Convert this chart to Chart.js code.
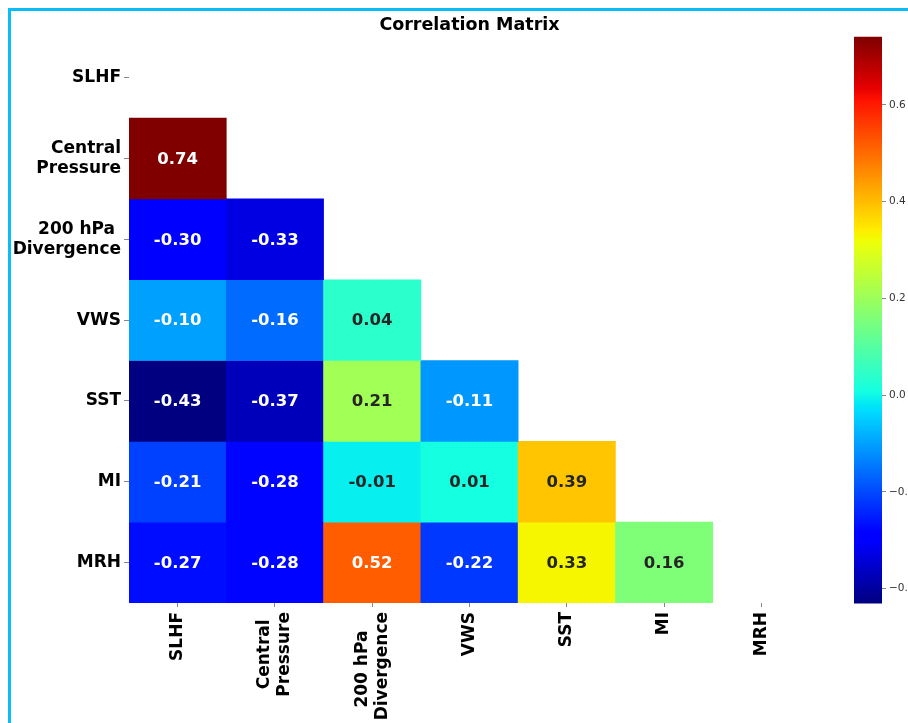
<!DOCTYPE html>
<html>
<head>
<meta charset="utf-8">
<script src="https://cdn.jsdelivr.net/npm/chart.js@4.4.1/dist/chart.umd.min.js"></script>
<style>
  html, body { margin: 0; padding: 0; background: #ffffff; }
  #wrap { width: 908px; height: 723px; position: relative; }
</style>
</head>
<body>
<div id="wrap"><canvas id="c" width="908" height="723"></canvas></div>
<script>
// ---------------- DATA ----------------
const variables = ['SLHF', 'Central Pressure', '200 hPa Divergence', 'VWS', 'SST', 'MI', 'MRH'];
const tickLabels = [['SLHF'], ['Central', 'Pressure'], ['200 hPa ', 'Divergence'], ['VWS'], ['SST'], ['MI'], ['MRH']];

// lower-triangle correlations (row variable vs. column variables before it)
const rowSLHF = [];
const rowCentralPressure = [0.74];
const rowDivergence = [-0.30, -0.33];
const rowVWS = [-0.10, -0.16, 0.04];
const rowSST = [-0.43, -0.37, 0.21, -0.11];
const rowMI = [-0.21, -0.28, -0.01, 0.01, 0.39];
const rowMRH = [-0.27, -0.28, 0.52, -0.22, 0.33, 0.16];

const colorbarTicks = [-0.4, -0.2, 0.0, 0.2, 0.4, 0.6];
const chartTitle = 'Correlation Matrix';

// ---------------- HELPERS ----------------
const rows = [rowSLHF, rowCentralPressure, rowDivergence, rowVWS, rowSST, rowMI, rowMRH];
const allVals = rows.flat();
const VMIN = Math.min(...allVals);
const VMAX = Math.max(...allVals);

function interp(pts, t) {
  for (let i = 0; i < pts.length - 1; i++) {
    const [x0, y0] = pts[i], [x1, y1] = pts[i + 1];
    if (t >= x0 && t <= x1) return y0 + (y1 - y0) * (t - x0) / (x1 - x0);
  }
  return t < pts[0][0] ? pts[0][1] : pts[pts.length - 1][1];
}
function jetRGB(t) {
  t = Math.max(0, Math.min(1, t));
  const r = interp([[0, 0], [0.35, 0], [0.66, 1], [0.89, 1], [1, 0.5]], t);
  const g = interp([[0, 0], [0.125, 0], [0.375, 1], [0.64, 1], [0.91, 0], [1, 0]], t);
  const b = interp([[0, 0.5], [0.11, 1], [0.34, 1], [0.65, 0], [1, 0]], t);
  return [r, g, b];
}
function jetColor(v) {
  const [r, g, b] = jetRGB((v - VMIN) / (VMAX - VMIN));
  return `rgb(${Math.round(r * 255)},${Math.round(g * 255)},${Math.round(b * 255)})`;
}
function textColorFor(v) {
  const lin = c => c <= 0.03928 ? c / 12.92 : Math.pow((c + 0.055) / 1.055, 2.4);
  const [r, g, b] = jetRGB((v - VMIN) / (VMAX - VMIN));
  const lum = 0.2126 * lin(r) + 0.7152 * lin(g) + 0.0722 * lin(b);
  return lum > 0.408 ? '#262626' : '#ffffff';
}

// one floating-bar dataset per row of the matrix
const datasets = rows.map((vals, r) => ({
  label: variables[r],
  data: variables.map((_, c) => c < vals.length ? [r, r + 1] : null),
  values: variables.map((_, c) => c < vals.length ? vals[c] : null),
  backgroundColor: variables.map((_, c) => c < vals.length ? jetColor(vals[c]) : 'rgba(0,0,0,0)'),
  borderWidth: 0,
  borderSkipped: false,
  barPercentage: 1.0,
  categoryPercentage: 1.0,
  grouped: false
}));

const LABEL_FONT = 'bold 17px "DejaVu Sans", sans-serif';

const framePlugin = {
  id: 'frame',
  beforeDraw(chart) {
    const ctx = chart.ctx;
    ctx.save();
    ctx.fillStyle = '#ffffff';
    ctx.fillRect(0, 0, chart.width, chart.height);
    ctx.fillStyle = '#0bbdf7';
    ctx.fillRect(8, 8, 3, chart.height - 8);
    ctx.fillRect(8, 8, chart.width - 8, 3);
    ctx.restore();
  }
};

const annotatePlugin = {
  id: 'annotate',
  afterDatasetsDraw(chart) {
    const ctx = chart.ctx;
    ctx.save();
    ctx.font = 'bold 16.5px "DejaVu Sans", sans-serif';
    ctx.textAlign = 'center';
    ctx.textBaseline = 'middle';
    chart.data.datasets.forEach((ds, i) => {
      const meta = chart.getDatasetMeta(i);
      ds.values.forEach((v, j) => {
        if (v === null) return;
        const p = meta.data[j].getCenterPoint();
        ctx.fillStyle = textColorFor(v);
        ctx.fillText(v.toFixed(2), p.x, p.y + 1);
      });
    });
    ctx.restore();
  }
};

const xLabelPlugin = {
  id: 'xlabels',
  afterDraw(chart) {
    const xs = chart.scales.x;
    const ctx = chart.ctx;
    ctx.save();
    ctx.font = LABEL_FONT;
    ctx.fillStyle = '#000000';
    ctx.textAlign = 'center';
    ctx.textBaseline = 'middle';
    const lineH = 20;
    const top0 = xs.top + 9;
    tickLabels.forEach((lines, i) => {
      const x = xs.getPixelForTick(i);
      const maxW = Math.max(...lines.map(l => ctx.measureText(l).width));
      ctx.save();
      ctx.translate(x, top0 + maxW / 2);
      ctx.rotate(-Math.PI / 2);
      lines.forEach((l, j) => ctx.fillText(l, 0, (j - (lines.length - 1) / 2) * lineH));
      ctx.restore();
    });
    ctx.restore();
  }
};

const colorbarPlugin = {
  id: 'colorbar',
  afterDraw(chart) {
    const cb = chart.scales.cb;
    const ctx = chart.ctx;
    const w = 28;
    const N = 300;
    ctx.save();
    for (let k = 0; k < N; k++) {
      const v0 = VMIN + (VMAX - VMIN) * k / N;
      const v1 = VMIN + (VMAX - VMIN) * (k + 1) / N;
      const y0 = cb.getPixelForValue(v0);
      const y1 = cb.getPixelForValue(v1);
      ctx.fillStyle = jetColor((v0 + v1) / 2);
      ctx.fillRect(cb.left, Math.min(y0, y1) - 0.5, w, Math.abs(y1 - y0) + 1);
    }
    ctx.restore();
  }
};

new Chart(document.getElementById('c'), {
  type: 'bar',
  data: { labels: variables, datasets },
  plugins: [framePlugin, annotatePlugin, xLabelPlugin, colorbarPlugin],
  options: {
    responsive: false,
    animation: false,
    devicePixelRatio: 1,
    layout: { padding: 0 },
    plugins: {
      legend: { display: false },
      tooltip: { enabled: false },
      title: {
        display: true,
        text: chartTitle,
        fullSize: false,
        color: '#000000',
        font: { family: '"DejaVu Sans", sans-serif', size: 17.5, weight: 'bold', lineHeight: 1.1 },
        padding: { top: 16, bottom: 2 }
      }
    },
    scales: {
      x: {
        type: 'category',
        offset: true,
        grid: { display: true, drawOnChartArea: false, drawTicks: true, tickLength: 4, offset: false, color: '#888888' },
        border: { display: false },
        ticks: { display: false },
        afterFit(s) { s.height = 120; }
      },
      y: {
        type: 'linear',
        min: 0,
        max: 7,
        reverse: true,
        position: 'left',
        grid: { display: true, drawOnChartArea: false, drawTicks: true, tickLength: 5, color: '#888888' },
        border: { display: false },
        afterBuildTicks(s) { s.ticks = variables.map((_, i) => ({ value: i + 0.5 })); },
        ticks: {
          autoSkip: false,
          padding: 3,
          color: '#000000',
          font: { family: '"DejaVu Sans", sans-serif', size: 17, weight: 'bold', lineHeight: 20 / 17 },
          callback: (v) => tickLabels[Math.floor(v)]
        },
        afterFit(s) { s.width = 129; }
      },
      gap: {
        type: 'linear',
        position: 'right',
        weight: 0,
        display: true,
        grid: { display: false },
        border: { display: false },
        ticks: { display: false },
        afterFit(s) { s.width = 44; }
      },
      cb: {
        type: 'linear',
        position: 'right',
        weight: 1,
        min: VMIN,
        max: VMAX,
        grid: { display: true, drawOnChartArea: false, drawTicks: true, tickLength: 32, color: '#888888' },
        border: { display: false },
        afterBuildTicks(s) { s.ticks = colorbarTicks.map(v => ({ value: v })); },
        ticks: {
          autoSkip: false,
          padding: 3,
          color: '#333333',
          font: { family: '"DejaVu Sans", sans-serif', size: 10.5 },
          callback: (v) => (v < -1e-9 ? '\u2212' : '') + Math.abs(v).toFixed(1)
        },
        afterFit(s) { s.width = 54; }
      }
    }
  }
});
</script>
</body>
</html>
